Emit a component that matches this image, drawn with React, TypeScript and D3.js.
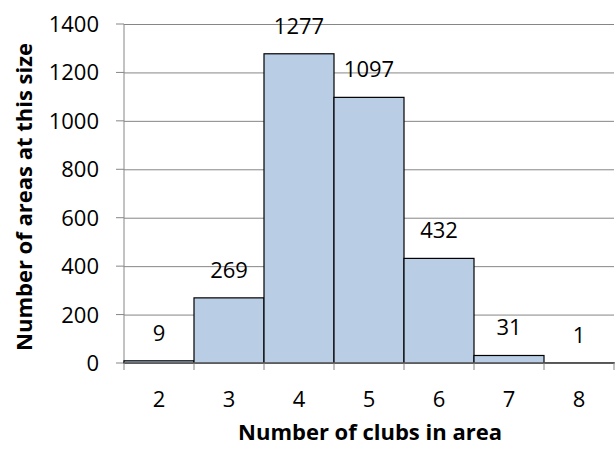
import { useEffect, useRef } from 'react';
import * as d3 from 'd3';

const categories = ['2', '3', '4', '5', '6', '7', '8'];
const counts = [9, 269, 1277, 1097, 432, 31, 1];
const yTicks = [0, 200, 400, 600, 800, 1000, 1200, 1400];

const WIDTH = 616;
const HEIGHT = 451;
const FONT = '"Open Sans", sans-serif';

export default function App() {
  const svgRef = useRef<SVGSVGElement>(null);

  useEffect(() => {
    if (!svgRef.current) return;
    const svg = d3.select(svgRef.current);
    svg.selectAll('*').remove();

    const plot = { left: 124, right: 614, top: 24, bottom: 363 };

    const x = d3.scaleBand<string>().domain(categories).range([plot.left, plot.right]).padding(0);
    const y = d3.scaleLinear().domain([0, 1400]).range([plot.bottom, plot.top]);

    const data = categories.map((c, i) => ({ cat: c, value: counts[i] }));

    // gridlines
    const yGrid = d3
      .axisLeft(y)
      .tickValues(yTicks)
      .tickSize(-(plot.right - plot.left))
      .tickFormat(() => '');
    const yg = svg.append('g').attr('transform', `translate(${plot.left},0)`).call(yGrid);
    yg.select('.domain').remove();
    yg.selectAll('line').attr('stroke', '#868686').attr('stroke-width', 1);

    // outer y tick marks
    svg
      .append('g')
      .selectAll('line')
      .data(yTicks)
      .enter()
      .append('line')
      .attr('x1', plot.left - 8)
      .attr('x2', plot.left)
      .attr('y1', (d) => y(d))
      .attr('y2', (d) => y(d))
      .attr('stroke', '#868686');

    // y axis line
    svg
      .append('line')
      .attr('x1', plot.left)
      .attr('x2', plot.left)
      .attr('y1', plot.top)
      .attr('y2', plot.bottom)
      .attr('stroke', '#868686');

    // y tick labels
    svg
      .append('g')
      .selectAll('text')
      .data(yTicks)
      .enter()
      .append('text')
      .attr('x', 99)
      .attr('y', (d) => y(d) + 8)
      .attr('text-anchor', 'end')
      .style('font-family', FONT)
      .style('font-size', '22px')
      .attr('fill', '#000')
      .text((d) => String(d));

    // bars
    svg
      .append('g')
      .selectAll('rect')
      .data(data)
      .enter()
      .append('rect')
      .attr('x', (d) => x(d.cat)!)
      .attr('y', (d) => y(d.value))
      .attr('width', x.bandwidth())
      .attr('height', (d) => y(0) - y(d.value))
      .attr('fill', '#B9CDE5')
      .attr('stroke', '#000')
      .attr('stroke-width', 1.2);

    // x axis line
    svg
      .append('line')
      .attr('x1', plot.left)
      .attr('x2', plot.right)
      .attr('y1', plot.bottom)
      .attr('y2', plot.bottom)
      .attr('stroke', '#868686');

    // x tick marks at category boundaries
    const boundaries = categories.map((c) => x(c)!).concat([plot.right]);
    svg
      .append('g')
      .selectAll('line')
      .data(boundaries)
      .enter()
      .append('line')
      .attr('x1', (d) => d)
      .attr('x2', (d) => d)
      .attr('y1', plot.bottom)
      .attr('y2', plot.bottom + 7)
      .attr('stroke', '#868686');

    // x tick labels
    svg
      .append('g')
      .selectAll('text')
      .data(categories)
      .enter()
      .append('text')
      .attr('x', (d) => x(d)! + x.bandwidth() / 2)
      .attr('y', 407)
      .attr('text-anchor', 'middle')
      .style('font-family', FONT)
      .style('font-size', '22px')
      .attr('fill', '#000')
      .text((d) => d);

    // value labels
    svg
      .append('g')
      .selectAll('text')
      .data(data)
      .enter()
      .append('text')
      .attr('x', (d) => x(d.cat)! + x.bandwidth() / 2)
      .attr('y', (d) => y(d.value) - 20)
      .attr('text-anchor', 'middle')
      .style('font-family', FONT)
      .style('font-size', '22px')
      .attr('fill', '#000')
      .text((d) => String(d.value));

    // axis titles
    svg
      .append('text')
      .attr('x', 370)
      .attr('y', 440)
      .attr('text-anchor', 'middle')
      .style('font-family', FONT)
      .style('font-size', '22px')
      .style('font-weight', 'bold')
      .attr('fill', '#000')
      .text('Number of clubs in area');

    svg
      .append('text')
      .attr('transform', `translate(32,197) rotate(-90)`)
      .attr('text-anchor', 'middle')
      .style('font-family', FONT)
      .style('font-size', '22px')
      .style('font-weight', 'bold')
      .attr('fill', '#000')
      .text('Number of areas at this size');
  }, []);

  return (
    <svg
      ref={svgRef}
      width={WIDTH}
      height={HEIGHT}
      style={{ position: 'absolute', left: 0, top: 0, background: '#fff' }}
    ></svg>
  );
}
